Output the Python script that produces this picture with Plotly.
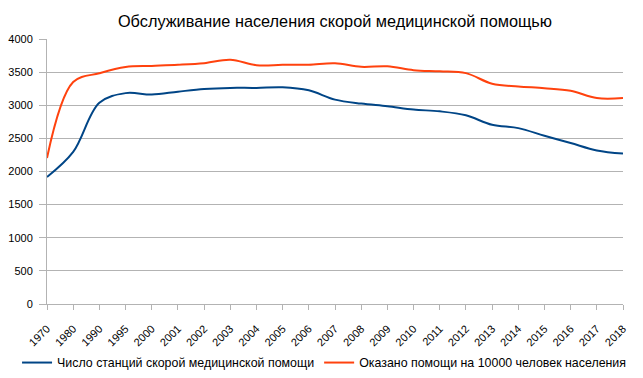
import plotly.graph_objects as go

years = ["1970", "1980", "1990", "1995", "2000", "2001", "2002", "2003", "2004", "2005",
         "2006", "2007", "2008", "2009", "2010", "2011", "2012", "2013", "2014", "2015",
         "2016", "2017", "2018"]
stations = [1917, 2295, 3036, 3183, 3162, 3205, 3245, 3262, 3262, 3272,
            3225, 3085, 3025, 2985, 2935, 2908, 2848, 2705, 2655, 2540,
            2430, 2318, 2270]
assisted = [2205, 3350, 3483, 3578, 3594, 3610, 3635, 3688, 3605, 3610,
            3612, 3633, 3580, 3588, 3530, 3512, 3485, 3325, 3283, 3258,
            3218, 3108, 3108]
y_ticks = [0, 500, 1000, 1500, 2000, 2500, 3000, 3500, 4000]

fig = go.Figure()
fig.add_trace(go.Scatter(x=years, y=stations, mode="lines", line_shape="spline",
                         line=dict(color="#004586", width=2, smoothing=1),
                         name="Число станций скорой медицинской помощи"))
fig.add_trace(go.Scatter(x=years, y=assisted, mode="lines", line_shape="spline",
                         line=dict(color="#ff420e", width=2, smoothing=1),
                         name="Оказано помощи на 10000 человек населения"))

# page body has an 8px margin, so the figure is 8px smaller each way
fig.update_layout(
    width=635, height=370,
    margin=dict(l=39, r=20, t=31, b=74, autoexpand=False),
    paper_bgcolor="white", plot_bgcolor="white",
    font=dict(family="Liberation Sans, Arial, sans-serif", color="#000000", size=11),
    title=dict(text="Обслуживание населения скорой медицинской помощью",
               xref="paper", x=0.5, xanchor="center", y=0.963, yanchor="middle",
               font=dict(size=16.3, color="#000000")),
    showlegend=True,
    legend=dict(orientation="h", xref="paper", yref="paper",
                x=-0.052, xanchor="left", y=-0.166, yanchor="top",
                font=dict(size=12.4), tracegroupgap=0, bgcolor="rgba(0,0,0,0)"),
)
fig.update_xaxes(type="category", range=[0, len(years) - 1], tickangle=-45,
                 showgrid=False, showline=True, linecolor="#b3b3b3", linewidth=1,
                 ticks="outside", ticklen=5, tickcolor="#b3b3b3", ticklabelstandoff=8,
                 tickfont=dict(size=11), zeroline=False, automargin=False)
fig.update_yaxes(range=[0, 4000], tickvals=y_ticks, showgrid=True, gridcolor="#b3b3b3",
                 gridwidth=1, showline=True, linecolor="#b3b3b3", linewidth=1,
                 ticks="outside", ticklen=7, tickcolor="#b3b3b3", ticklabelstandoff=4,
                 tickfont=dict(size=11), zeroline=False, automargin=False)

fig.write_html("out.html")
